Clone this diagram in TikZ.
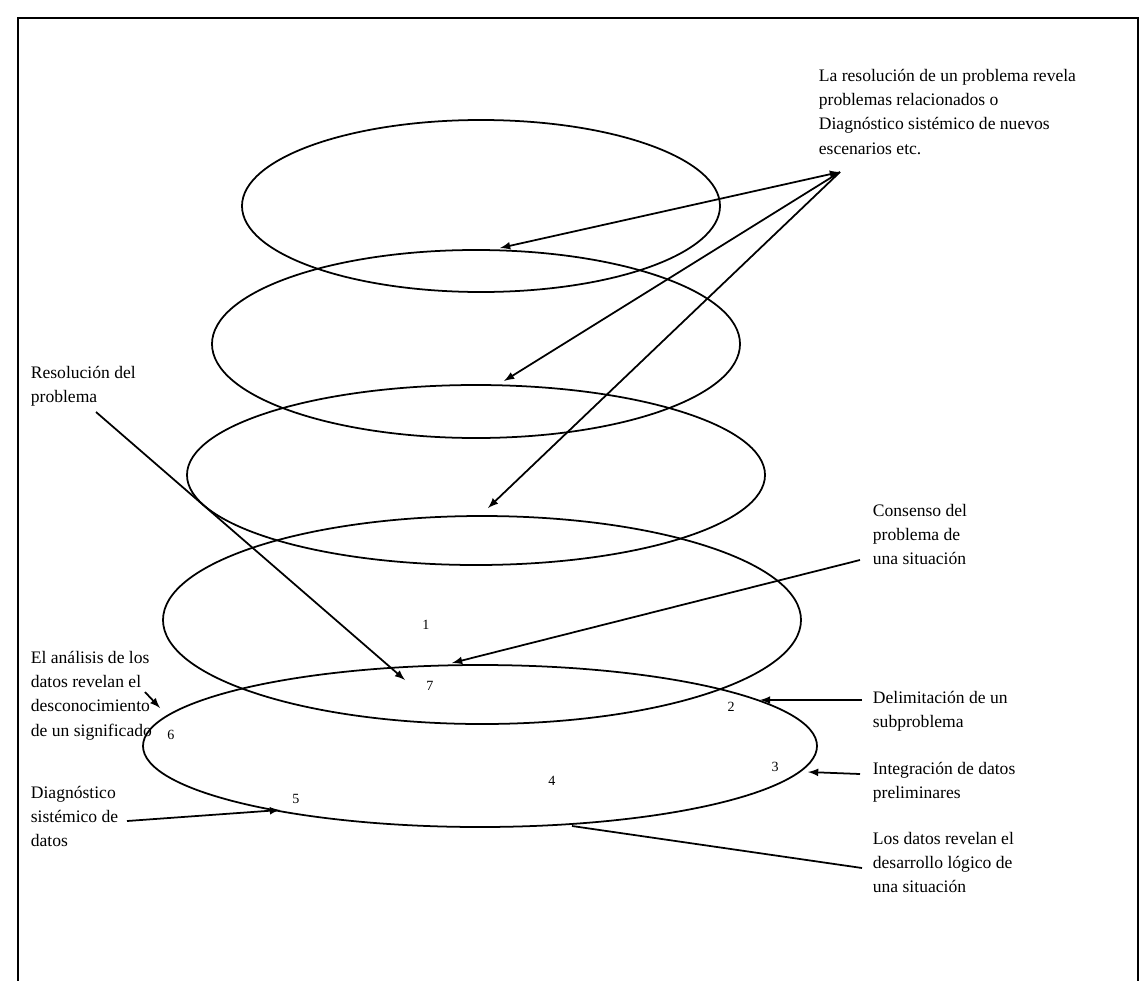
\documentclass[tikz,border=0pt]{standalone}
\usepackage{fontspec}
\setmainfont{Liberation Serif}
\begin{document}
\begin{tikzpicture}[x = .02cm, y = -.02cm, >=latex, line width = 1pt,
	lbl/.style = {anchor = north west, inner sep = 0, align = left, font = \fontsize{10}{13.9}\selectfont},
	num/.style = {inner sep = 0, font = \fontsize{8}{8}\selectfont}]
\useasboundingbox (0, 0) rectangle (1141, 980);
\draw (18, 995) -- (18, 18) -- (1138, 18) -- (1138, 995);
	\foreach \cx/\cy/\rx/\ry in {481/206/239/86, 476/344/264/94, 476/475/289/90, 482/620/319/104, 480/746/337/81}{
		\draw (\cx, \cy) ellipse ({\rx} and {\ry});
	};
\node [lbl] (revela) at (818, 68) {La resolución de un problema revela\\problemas relacionados o\\Diagnóstico sistémico de nuevos\\escenarios etc.};
\node [lbl] (resol) at (30, 365) {Resolución del\\problema};
\node [lbl] (consenso) at (872, 503) {Consenso del\\problema de\\una situación};
\node [lbl] (analisis) at (30, 650) {El análisis de los\\datos revelan el\\desconocimiento\\de un significado};
\node [lbl] (delim) at (872, 690) {Delimitación de un\\subproblema};
\node [lbl] (integ) at (872, 761) {Integración de datos\\preliminares};
\node [lbl] (desarr) at (872, 831) {Los datos revelan el\\desarrollo lógico de\\una situación};
\node [lbl] (diagn) at (30, 785) {Diagnóstico\\sistémico de\\datos};
	\foreach \n/\x/\y in {1/426/625, 2/731/707, 3/775/767, 4/552/781, 5/296/799, 6/171/735, 7/430/686}{
		\node [num] (n\n) at (\x, \y) {\n};
	};
\coordinate (revelaA) at (840, 172);
\coordinate (revelaB1) at (500, 248);
\coordinate (revelaB2) at (504, 381);
\coordinate (revelaB3) at (488, 508);
\coordinate (resolA) at (96, 412);
\coordinate (resolB) at (405, 680);
\coordinate (consensoA) at (860, 560);
\coordinate (consensoB) at (452, 663);
\coordinate (delimA) at (862, 700);
\coordinate (delimB) at (760, 700);
\coordinate (integA) at (860, 774);
\coordinate (integB) at (808, 772);
\coordinate (desarrA) at (862, 868);
\coordinate (desarrB) at (572, 826);
\coordinate (diagnA) at (127, 821);
\coordinate (diagnB) at (280, 810);
\coordinate (analisisA) at (145, 692);
\coordinate (analisisB) at (160, 708);
\draw [<->] (revelaB1) -- (revelaA);
\draw [->] (revelaA) -- (revelaB2);
\draw [->] (revelaA) -- (revelaB3);
\draw [->] (resolA) -- (resolB);
\draw [->] (consensoA) -- (consensoB);
\draw [->] (delimA) -- (delimB);
\draw [->] (integA) -- (integB);
\draw (desarrA) -- (desarrB);
\draw [->] (diagnA) -- (diagnB);
\draw [->] (analisisA) -- (analisisB);
\end{tikzpicture}
\end{document}
